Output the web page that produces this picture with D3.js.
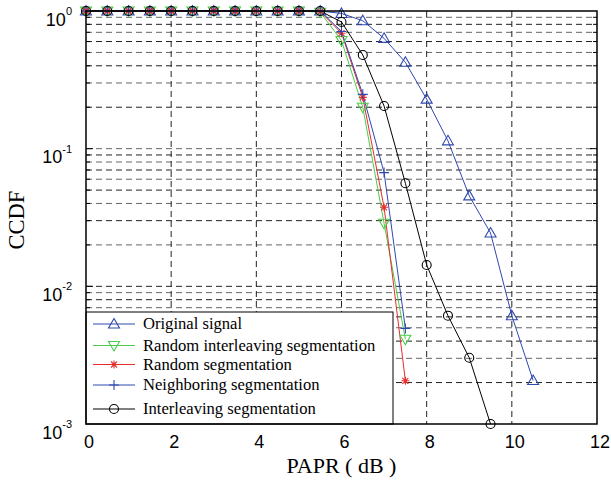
<!DOCTYPE html>
<html><head><meta charset="utf-8">
<script src="https://cdn.jsdelivr.net/npm/d3@7"></script>
<style>body{margin:0;background:#fff}svg{display:block}</style>
</head><body>
<svg id="c" width="611" height="480"></svg>
<script>
const papr = [0,0.5,1,1.5,2,2.5,3,3.5,4,4.5,5,5.5,6,6.5,7,7.5,8,8.5,9,9.5,10,10.5];
const original = [1,1,1,1,1,1,1,1,1,1,1,1,0.96,0.85,0.633,0.424,0.229,0.114,0.0454,0.0244,0.00612,0.00207];
const randInterleave = [1,1,1,1,1,1,1,1,1,1,1,0.98,0.61,0.2,0.0287,0.00413];
const randSeg = [1,1,1,1,1,1,1,1,1,1,1,0.99,0.69,0.236,0.0375,0.00206];
const neighbor = [1,1,1,1,1,1,1,1,1,1,1,1,0.71,0.248,0.067,0.00495];
const interleave = [1,1,1,1,1,1,1,1,1,1,1,1,0.832,0.479,0.204,0.0561,0.0143,0.00612,0.00303,0.001];
const names = ["Original signal","Random interleaving segmentation","Random segmentation","Neighboring segmentation","Interleaving segmentation"];
const xTicks = [0,2,4,6,8,10,12];
const yDecades = [0,-1,-2,-3];

const series = [
  {name:names[0], vals:original, color:"#2f48b0", marker:"tri"},
  {name:names[1], vals:randInterleave, color:"#4ccc4c", marker:"tridown"},
  {name:names[2], vals:randSeg, color:"#e82c2c", marker:"star"},
  {name:names[3], vals:neighbor, color:"#2f48b0", marker:"plus"},
  {name:names[4], vals:interleave, color:"#000000", marker:"circle"}
];

const svg = d3.select("#c");
const L=86, R=597, T=11, B=424;
const x = d3.scaleLinear().domain([0,12]).range([L,R]);
const y = d3.scaleLog().domain([1e-3,1]).range([B,T]);

// grid
const g = svg.append("g");
const minorVals = [];
for (let d=-3; d<0; d++) for (let m=1; m<=9; m++) minorVals.push(m*Math.pow(10,d));
minorVals.push(1);
minorVals.forEach((v,i)=>{
  if (v<=1e-3*1.0001 || v>=0.9999) return;
  g.append("line").attr("x1",L).attr("x2",R).attr("y1",y(v)).attr("y2",y(v))
   .attr("stroke", i%2? "#222":"#666").attr("stroke-width",1).attr("stroke-dasharray","6,4");
});
xTicks.slice(1,-1).forEach(t=>{
  g.append("line").attr("x1",x(t)).attr("x2",x(t)).attr("y1",T).attr("y2",B)
   .attr("stroke","#222").attr("stroke-width",1).attr("stroke-dasharray","6,4");
});

// minor ticks on axes
minorVals.forEach(v=>{
  if (v<=1e-3*1.0001 || v>=0.9999) return;
  const isDec = Math.abs(Math.log10(v)-Math.round(Math.log10(v)))<1e-6;
  const len = isDec?7:4;
  g.append("line").attr("x1",L).attr("x2",L+len).attr("y1",y(v)).attr("y2",y(v)).attr("stroke","#000");
  g.append("line").attr("x1",R).attr("x2",R-len).attr("y1",y(v)).attr("y2",y(v)).attr("stroke","#000");
});

function marker(sel, type, cx, cy, color){
  if (type==="tri"){
    sel.append("path").attr("d",`M${cx},${cy-5.5}L${cx+5.5},${cy+4}L${cx-5.5},${cy+4}Z`).attr("fill","none").attr("stroke",color).attr("stroke-width",1.1);
  } else if (type==="tridown"){
    sel.append("path").attr("d",`M${cx},${cy+5.5}L${cx+5.5},${cy-4}L${cx-5.5},${cy-4}Z`).attr("fill","none").attr("stroke",color).attr("stroke-width",1.1);
  } else if (type==="circle"){
    sel.append("circle").attr("cx",cx).attr("cy",cy).attr("r",4.5).attr("fill","none").attr("stroke",color).attr("stroke-width",1.1);
  } else if (type==="plus"){
    sel.append("path").attr("d",`M${cx-5},${cy}H${cx+5}M${cx},${cy-5}V${cy+5}`).attr("stroke",color).attr("stroke-width",1.1);
  } else if (type==="star"){
    sel.append("path").attr("d",`M${cx-4},${cy}H${cx+4}M${cx},${cy-4}V${cy+4}M${cx-3},${cy-3}L${cx+3},${cy+3}M${cx-3},${cy+3}L${cx+3},${cy-3}`).attr("stroke",color).attr("stroke-width",1.1);
  }
}

const line = d3.line().x(d=>x(d[0])).y(d=>y(d[1]));
const plot = svg.append("g");
series.forEach(s=>{
  const pts = s.vals.map((v,i)=>[papr[i],v]);
  plot.append("path").attr("d",line(pts)).attr("fill","none").attr("stroke",s.color).attr("stroke-width",1);
});
series.forEach(s=>{
  s.vals.forEach((v,i)=>marker(plot,s.marker,x(papr[i]),y(v),s.color));
});

// legend
const lg = svg.append("g");
const lx0=L, ly0=312, lx1=393;
lg.append("rect").attr("x",lx0).attr("y",ly0).attr("width",lx1-lx0).attr("height",B-ly0).attr("fill","#fff").attr("stroke","#000").attr("stroke-width",1);
const rowsY=[324,345.5,364.5,385,409];
series.forEach((s,i)=>{
  const yy=rowsY[i];
  lg.append("line").attr("x1",93).attr("x2",135).attr("y1",yy).attr("y2",yy).attr("stroke",s.color).attr("stroke-width",1);
  marker(lg,s.marker,114,yy,s.color);
  lg.append("text").attr("x",143).attr("y",yy+5).text(s.name)
    .attr("font-family","'Liberation Serif','Times New Roman',serif").attr("font-size",16.6).attr("fill","#000");
});

// frame
svg.append("rect").attr("x",L).attr("y",T).attr("width",R-L).attr("height",B-T).attr("fill","none").attr("stroke","#000").attr("stroke-width",1.5);

// tick labels
const tf="'Liberation Sans',Arial,Helvetica,sans-serif";
xTicks.forEach(t=>{
  svg.append("text").attr("x",x(t)+3).attr("y",448).attr("text-anchor","middle").attr("font-family",tf).attr("font-size",18).text(t);
});
yDecades.forEach(d=>{
  const yy=y(Math.pow(10,d));
  const t=svg.append("text").attr("x",72).attr("y",yy+14.5).attr("text-anchor","end").attr("font-family",tf).attr("font-size",18);
  t.append("tspan").text("10");
  t.append("tspan").attr("dy",-10.5).attr("font-size",11).text(d);
});

// axis labels
svg.append("text").attr("x",(L+R)/2).attr("y",473).attr("text-anchor","middle").attr("font-family","'Liberation Serif','Times New Roman',serif").attr("font-size",22).text("PAPR ( dB )");
svg.append("text").attr("transform",`translate(24,220) rotate(-90)`).attr("text-anchor","middle").attr("font-family","'Liberation Serif','Times New Roman',serif").attr("font-size",22.5).text("CCDF");
</script>
</body></html>
